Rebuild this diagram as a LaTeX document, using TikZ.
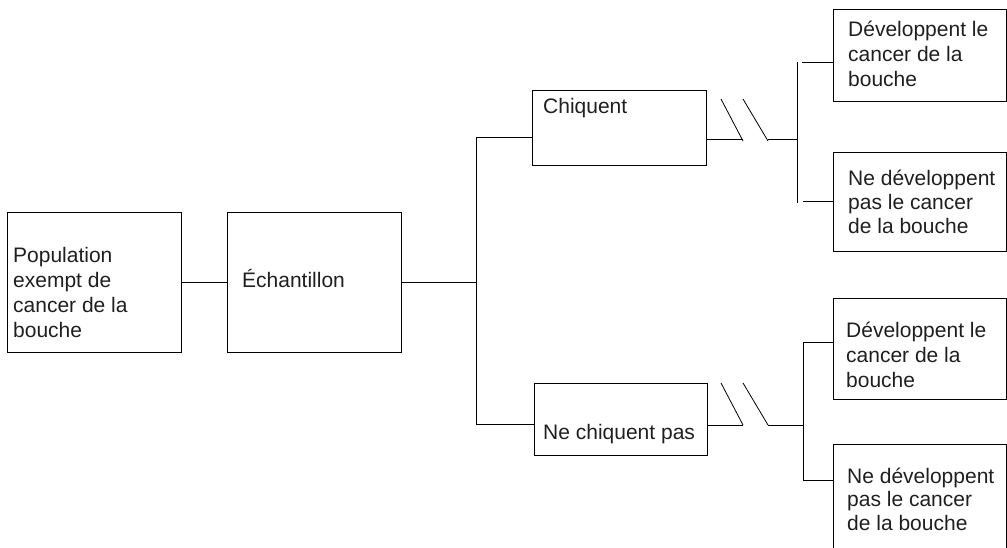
\documentclass[tikz,border=0pt]{standalone}
\usepackage{fontspec}
\setmainfont{Liberation Sans}
\begin{document}
\begin{tikzpicture}[x=1pt,y=-1pt,
  box/.style={draw=black, line width=1pt, rectangle, inner sep=0pt, anchor=north west},
  lbl/.style={anchor=base west, inner sep=0pt, align=left, text=black!88},
  conn/.style={draw=black, line width=1pt},
  brk/.style={draw=black, line width=0.8pt}]
\useasboundingbox (0,0) rectangle (1007,547);
\clip (0,0) rectangle (1007,547);
% boxes
\node[box, minimum width=174pt, minimum height=140pt] (pop) at (7,212) {};
\node[box, minimum width=174pt, minimum height=140pt] (ech) at (227,212) {};
\node[box, minimum width=174pt, minimum height=75pt] (chi) at (532,90) {};
\node[box, minimum width=173pt, minimum height=72pt] (nch) at (534,383) {};
\node[box, minimum width=173pt, minimum height=92pt] (d1) at (833,9) {};
\node[box, minimum width=173pt, minimum height=99pt] (n1) at (833,152) {};
\node[box, minimum width=173pt, minimum height=101pt] (d2) at (833,298) {};
\node[box, minimum width=173pt, minimum height=126pt] (n2) at (833,444) {};
% texts (base anchor = baseline of the last line)
\node[lbl, font=\fontsize{21}{25}\selectfont] (tpop) at (13,337) {Population\\exempt de\\cancer de la\\bouche};
\node[lbl, font=\fontsize{21}{25}\selectfont] (tech) at (242,287) {Échantillon};
\node[lbl, font=\fontsize{21}{25}\selectfont] (tchi) at (543,113) {Chiquent};
\node[lbl, font=\fontsize{21}{25}\selectfont] (tnch) at (543,439) {Ne chiquent pas};
\node[lbl, font=\fontsize{21}{25}\selectfont] (td1) at (848,86) {Développent le\\cancer de la\\bouche};
\node[lbl, font=\fontsize{21}{24}\selectfont] (tn1) at (848,233) {Ne développent\\pas le cancer\\de la bouche};
\node[lbl, font=\fontsize{21}{25}\selectfont] (td2) at (846,387) {Développent le\\cancer de la\\bouche};
\node[lbl, font=\fontsize{21}{23.5}\selectfont] (tn2) at (847,530) {Ne développent\\pas le cancer\\de la bouche};
% left connectors
\draw[conn] (pop.east) -- (ech.west);
\coordinate (jt) at (476,137);
\coordinate (jb) at (476,424);
\draw[conn] (ech.east) -- (ech.east -| jt);
\draw[conn] (chi.west |- jt) -- (jt) -- (jb) -- (nch.west |- jb);
% upper break
\coordinate (ua) at (743,139);
\coordinate (ub) at (768,139);
\coordinate (uv) at (797,139);
\coordinate (ut) at (797,62);
\coordinate (ud) at (797,203);
\coordinate (uh1) at (802,62);
\coordinate (uh2) at (803,201);
\draw[conn] (chi.east |- ua) -- (ua);
\draw[brk] (721,99) -- (743,141);
\draw[brk] (743,99) -- (768,141);
\draw[conn] (ub) -- (uv);
\draw[conn] (ut) -- (ud);
\draw[conn] (uh1) -- (d1.west |- uh1);
\draw[conn] (uh2) -- (n1.west |- uh2);
% lower break
\coordinate (la) at (743,425);
\coordinate (lb) at (768,425);
\coordinate (lv) at (803,425);
\coordinate (lt) at (803,342);
\coordinate (ld) at (803,480);
\draw[conn] (nch.east |- la) -- (la);
\draw[brk] (721,383) -- (743,425);
\draw[brk] (743,383) -- (768,425);
\draw[conn] (lb) -- (lv);
\draw[conn] (lt) -- (ld);
\draw[conn] (lt) -- (d2.west |- lt);
\draw[conn] (ld) -- (n2.west |- ld);
\end{tikzpicture}
\end{document}
